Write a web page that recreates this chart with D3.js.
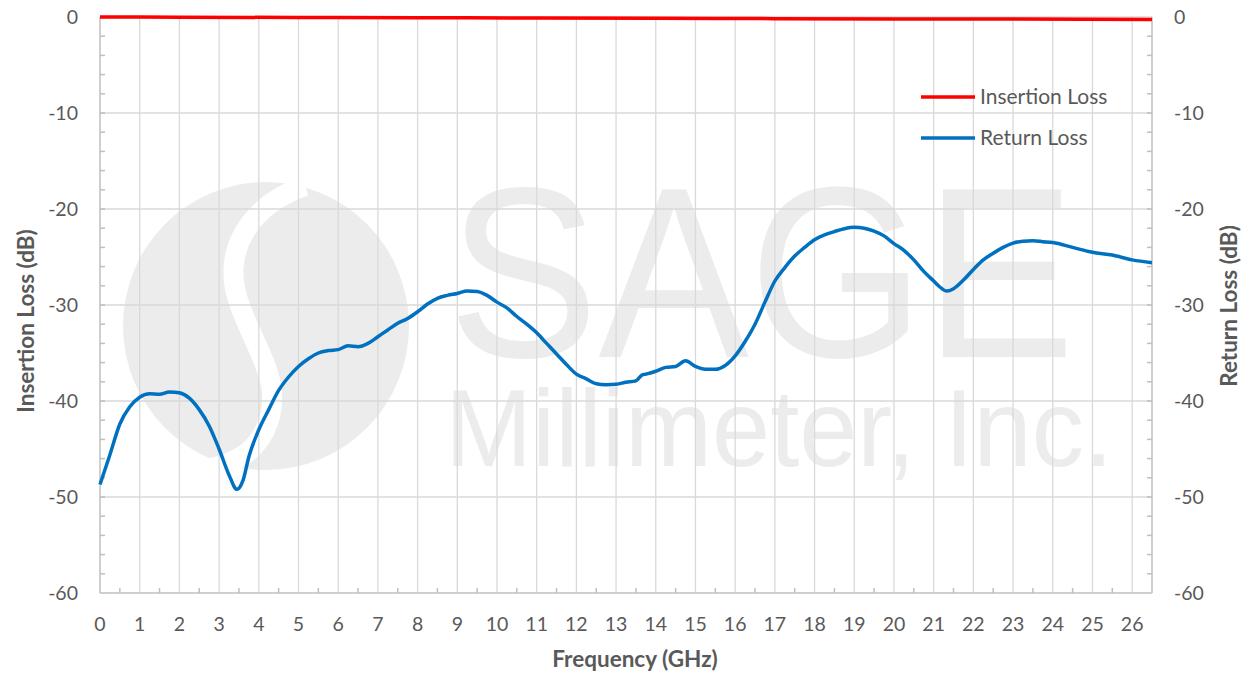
<!DOCTYPE html>
<html>
<head>
<meta charset="utf-8">
<script src="https://cdn.jsdelivr.net/npm/d3@7"></script>
<style>
  body { margin: 0; background: #fff; }
  svg { display: block; font-family: Lato, "Open Sans", sans-serif; }
</style>
</head>
<body>
<svg id="chart" width="1250" height="675"></svg>
<script>
// valores
var freqRL = [0, 0.25, 0.5, 0.75, 1, 1.25, 1.5, 1.75, 2, 2.25, 2.5, 2.75, 3, 3.25, 3.45, 3.6, 3.75, 4, 4.25, 4.5, 4.75,
  5, 5.25, 5.5, 5.75, 6, 6.25, 6.5, 6.75, 7, 7.25, 7.5, 7.75, 8, 8.25, 8.5, 8.75, 9, 9.25, 9.5, 9.75,
  10, 10.25, 10.5, 10.75, 11, 11.25, 11.5, 11.75, 12, 12.25, 12.5, 12.75, 13, 13.25, 13.5, 13.65, 13.75, 14, 14.25, 14.5, 14.75,
  15, 15.25, 15.5, 15.75, 16, 16.25, 16.5, 16.75, 17, 17.25, 17.5, 17.75, 18, 18.25, 18.5, 18.75, 19, 19.25, 19.5, 19.75,
  20, 20.25, 20.5, 20.75, 21, 21.15, 21.33, 21.5, 21.75, 22, 22.25, 22.5, 22.75, 23, 23.25, 23.5, 23.75, 24, 24.5, 25, 25.5, 26, 26.5];
var returnLoss = [-48.7, -45.6, -42.4, -40.6, -39.6, -39.25, -39.3, -39.05, -39.15, -39.7, -40.9, -42.6, -45.0, -47.7, -49.2, -48.3, -45.8, -43.0, -40.9, -38.9, -37.5,
  -36.4, -35.6, -35.0, -34.75, -34.65, -34.25, -34.35, -34.0, -33.3, -32.6, -31.9, -31.4, -30.7, -29.9, -29.3, -29.0, -28.8, -28.55, -28.6, -29.0,
  -29.7, -30.3, -31.2, -32.0, -32.9, -34.0, -35.1, -36.2, -37.2, -37.7, -38.2, -38.3, -38.25, -38.05, -37.9, -37.3, -37.2, -36.9, -36.5, -36.4, -35.8,
  -36.4, -36.7, -36.7, -36.3, -35.3, -33.8, -32.0, -29.7, -27.5, -26.1, -24.9, -24.0, -23.2, -22.7, -22.35, -22.05, -21.9, -22.0, -22.3, -22.8,
  -23.6, -24.3, -25.3, -26.5, -27.5, -28.1, -28.55, -28.3, -27.4, -26.3, -25.3, -24.6, -24.0, -23.55, -23.35, -23.3, -23.4, -23.5, -24.0, -24.5, -24.8, -25.3, -25.6];

var freqIL = [0, 2, 5, 8, 11, 14, 17, 20, 23, 26.5];
var insertionLoss = [0, -0.02, -0.05, -0.08, -0.1, -0.13, -0.17, -0.2, -0.22, -0.25];

var xTicks = d3.range(0, 27, 1);
var xMinor = d3.range(0.5, 26.5, 1);
var yTicks = [0, -10, -20, -30, -40, -50, -60];
var yMinor = d3.range(-2, -60, -2);

var series = [
  {nombre: 'Insertion Loss', color: '#ff0000', x: freqIL, y: insertionLoss},
  {nombre: 'Return Loss', color: '#0070c0', x: freqRL, y: returnLoss}
];

var svg = d3.select('#chart');
var x = d3.scaleLinear().domain([0, 26.5]).range([100, 1152]);
var y = d3.scaleLinear().domain([0, -60]).range([17, 593]);
var GRIS = '#595959';

// marca de agua
var wm = svg.append('g').attr('fill', '#ececec');
wm.append('ellipse').attr('cx', 266).attr('cy', 326).attr('rx', 143).attr('ry', 144);
wm.append('path')
  .attr('d', 'M305,186 C250,205 222,250 238,300 C254,350 288,385 264,432 C253,453 236,462 212,468')
  .attr('fill', 'none').attr('stroke', '#fff').attr('stroke-width', 20);
wm.append('text').attr('x', 448).attr('y', 357).attr('font-family', '"Liberation Sans", Arial, sans-serif')
  .attr('font-size', 243).attr('textLength', 627).attr('lengthAdjust', 'spacingAndGlyphs').text('SAGE');
wm.append('text').attr('x', 445).attr('y', 466).attr('font-family', '"Liberation Sans", Arial, sans-serif')
  .attr('font-size', 110).attr('textLength', 668).attr('lengthAdjust', 'spacingAndGlyphs').text('Millimeter, Inc.');

// rejilla
var grid = svg.append('g').attr('stroke', '#d9d9d9').attr('stroke-width', 1.3);
grid.selectAll('line.v').data(xTicks.filter(function(d){ return d > 0; })).enter().append('line')
  .attr('x1', function(d){ return x(d); }).attr('x2', function(d){ return x(d); })
  .attr('y1', y(0)).attr('y2', y(-60));
grid.selectAll('line.h').data(yTicks.filter(function(d){ return d > -60; })).enter().append('line')
  .attr('y1', function(d){ return y(d); }).attr('y2', function(d){ return y(d); })
  .attr('x1', x(0)).attr('x2', x(26.5));

// ejes
var ejes = svg.append('g').attr('stroke', '#bfbfbf').attr('stroke-width', 1.5);
ejes.append('line').attr('x1', x(0)).attr('x2', x(0)).attr('y1', y(0)).attr('y2', y(-60));
ejes.append('line').attr('x1', x(26.5)).attr('x2', x(26.5)).attr('y1', y(0)).attr('y2', y(-60));
ejes.append('line').attr('x1', x(0)).attr('x2', x(26.5)).attr('y1', y(-60)).attr('y2', y(-60));
ejes.selectAll('line.ml').data(yMinor).enter().append('line')
  .attr('x1', x(0)).attr('x2', x(0) + 5)
  .attr('y1', function(d){ return y(d); }).attr('y2', function(d){ return y(d); });
ejes.selectAll('line.mr').data(yMinor).enter().append('line')
  .attr('x1', x(26.5)).attr('x2', x(26.5) - 5)
  .attr('y1', function(d){ return y(d); }).attr('y2', function(d){ return y(d); });
ejes.selectAll('line.mb').data(xMinor).enter().append('line')
  .attr('x1', function(d){ return x(d); }).attr('x2', function(d){ return x(d); })
  .attr('y1', y(-60)).attr('y2', y(-60) - 5);

// etiquetas de ejes
var etiq = svg.append('g').attr('fill', GRIS).attr('font-size', 19.5);
etiq.selectAll('text.yl').data(yTicks).enter().append('text')
  .attr('x', 78).attr('y', function(d){ return y(d); }).attr('dy', '0.35em')
  .attr('text-anchor', 'end').text(function(d){ return d; });
etiq.selectAll('text.yr').data(yTicks).enter().append('text')
  .attr('x', 1174).attr('y', function(d){ return y(d); }).attr('dy', '0.35em')
  .attr('text-anchor', 'start').text(function(d){ return d; });
etiq.selectAll('text.x').data(xTicks).enter().append('text')
  .attr('x', function(d){ return x(d); }).attr('y', 624).attr('dy', '0.35em')
  .attr('text-anchor', 'middle').text(function(d){ return d; });

var titulos = etiq.append('g').attr('font-size', 22.5).attr('font-weight', 'bold');
titulos.append('text').attr('x', 635).attr('y', 659).attr('dy', '0.35em')
  .attr('text-anchor', 'middle').text('Frequency (GHz)');
titulos.append('text').attr('transform', 'translate(26,321) rotate(-90)').attr('dy', '0.35em')
  .attr('text-anchor', 'middle').text('Insertion Loss (dB)');
titulos.append('text').attr('transform', 'translate(1229,306) rotate(-90)').attr('dy', '0.35em')
  .attr('text-anchor', 'middle').text('Return Loss (dB)');

// curvas
var linea = d3.line()
  .x(function(d){ return x(d[0]); })
  .y(function(d){ return y(d[1]); })
  .curve(d3.curveMonotoneX);

svg.append('g').selectAll('path').data(series.slice().reverse()).enter().append('path')
  .attr('fill', 'none')
  .attr('stroke', function(d){ return d.color; })
  .attr('stroke-width', 3.5)
  .attr('stroke-linejoin', 'round')
  .attr('d', function(d){ return linea(d3.zip(d.x, d.y)); });

// leyenda
var ley = svg.append('g').selectAll('g').data(series).enter().append('g')
  .attr('transform', function(d, i){ return 'translate(921,' + (97 + i * 41) + ')'; });
ley.append('line').attr('x1', 0).attr('x2', 54)
  .attr('stroke', function(d){ return d.color; }).attr('stroke-width', 3.5);
ley.append('text').attr('x', 59).attr('dy', '0.35em').attr('fill', GRIS).attr('font-size', 21)
  .text(function(d){ return d.nombre; });
</script>
</body>
</html>
